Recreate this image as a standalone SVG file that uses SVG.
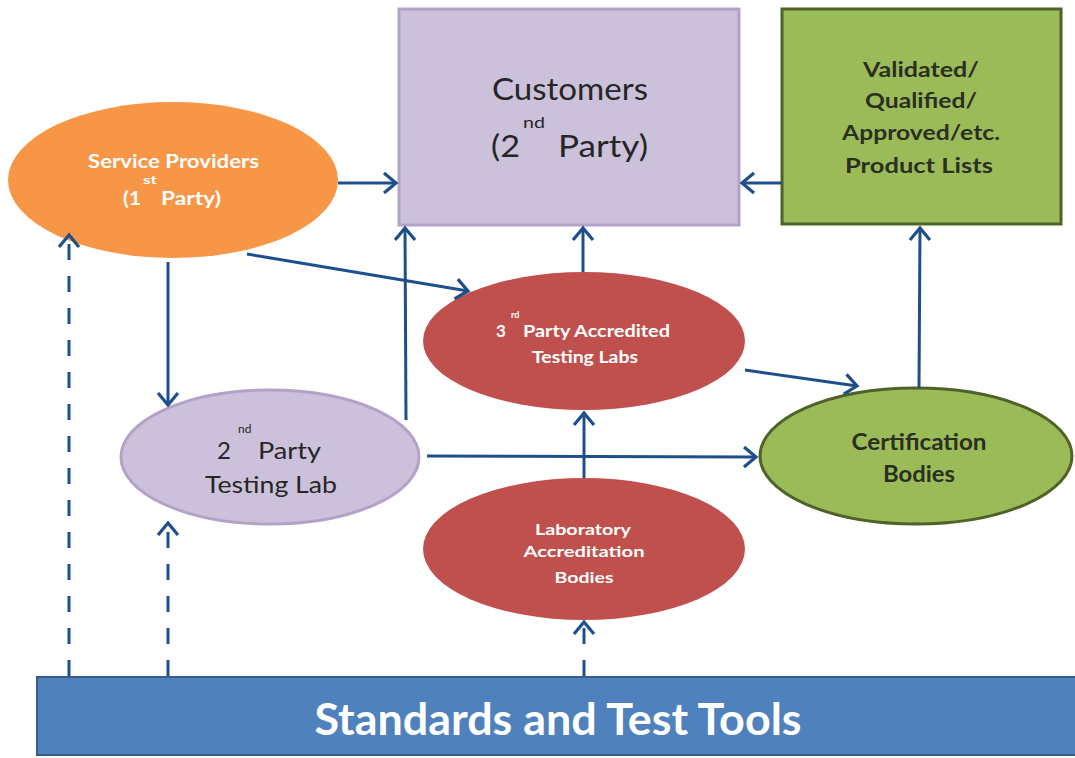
<svg xmlns="http://www.w3.org/2000/svg" width="1075" height="758" viewBox="0 0 1075 758">
  <style>
    .lbl { font-family: Lato, "Open Sans", "Liberation Sans", sans-serif; }
    .w { fill: #ffffff; font-weight: bold; }
    .d { fill: #262626; }
    .g { fill: #2b2f22; font-weight: bold; }
    .conn { stroke: #1f4f8b; stroke-width: 3; fill: none; }
    .dash { stroke-dasharray: 16 16; }
  </style>
  <defs>
    <marker id="arr" markerUnits="userSpaceOnUse" markerWidth="30" markerHeight="30" refX="16" refY="15" orient="auto">
      <path d="M4 5 L16 15 L4 25" fill="none" stroke="#1f4f8b" stroke-width="3.2" stroke-linejoin="miter"/>
    </marker>
  </defs>
  <rect width="1075" height="758" fill="#ffffff"/>

  <g id="customers">
    <rect x="399" y="9" width="340" height="216" fill="#ccc1da" stroke="#b3a2c7" stroke-width="3"/>
    <text class="lbl d" x="492" y="100" font-size="31" textLength="156" lengthAdjust="spacingAndGlyphs">Customers</text>
    <text class="lbl d" x="491" y="157" font-size="31" textLength="29" lengthAdjust="spacingAndGlyphs">(2</text>
    <text class="lbl d" x="523" y="128" font-size="16" textLength="22" lengthAdjust="spacingAndGlyphs">nd</text>
    <text class="lbl d" x="558" y="157" font-size="31" textLength="90" lengthAdjust="spacingAndGlyphs">Party)</text>
  </g>

  <g id="product-lists">
    <rect x="782" y="9" width="279" height="215" fill="#9bbb59" stroke="#4f6228" stroke-width="3"/>
    <g class="lbl g" font-size="20" text-anchor="middle" lengthAdjust="spacingAndGlyphs">
      <text x="921" y="77" textLength="116" lengthAdjust="spacingAndGlyphs">Validated/</text>
      <text x="921" y="108" textLength="112" lengthAdjust="spacingAndGlyphs">Qualified/</text>
      <text x="921" y="140" textLength="158" lengthAdjust="spacingAndGlyphs">Approved/etc.</text>
      <text x="919" y="173" textLength="148" lengthAdjust="spacingAndGlyphs">Product Lists</text>
    </g>
  </g>

  <g id="service-providers">
    <ellipse cx="173" cy="180" rx="165" ry="78" fill="#f79646"/>
    <text class="lbl w" x="88" y="168" font-size="18" textLength="171" lengthAdjust="spacingAndGlyphs">Service Providers</text>
    <text class="lbl w" x="123" y="205" font-size="18" textLength="18" lengthAdjust="spacingAndGlyphs">(1</text>
    <text class="lbl w" x="143" y="184" font-size="11" textLength="14" lengthAdjust="spacingAndGlyphs">st</text>
    <text class="lbl w" x="161" y="205" font-size="18" textLength="60" lengthAdjust="spacingAndGlyphs">Party)</text>
  </g>

  <g id="third-party-labs">
    <ellipse cx="584" cy="341" rx="161" ry="69" fill="#c0504d"/>
    <text class="lbl w" x="496" y="337" font-size="17">3</text>
    <text class="lbl w" x="511" y="318" font-size="9">rd</text>
    <text class="lbl w" x="523" y="337" font-size="17" textLength="147" lengthAdjust="spacingAndGlyphs">Party Accredited</text>
    <text class="lbl w" x="585" y="363" font-size="17" text-anchor="middle" textLength="106" lengthAdjust="spacingAndGlyphs">Testing Labs</text>
  </g>

  <g id="second-party-lab">
    <ellipse cx="270" cy="457" rx="149" ry="67" fill="#ccc1da" stroke="#b3a2c7" stroke-width="3"/>
    <text class="lbl d" x="217" y="459" font-size="24">2</text>
    <text class="lbl d" x="238" y="433" font-size="12">nd</text>
    <text class="lbl d" x="258" y="459" font-size="24" textLength="63" lengthAdjust="spacingAndGlyphs">Party</text>
    <text class="lbl d" x="271" y="493" font-size="24" text-anchor="middle" textLength="132" lengthAdjust="spacingAndGlyphs">Testing Lab</text>
  </g>

  <g id="lab-accreditation">
    <ellipse cx="584" cy="549" rx="161" ry="71" fill="#c0504d"/>
    <g class="lbl w" font-size="16" text-anchor="middle">
      <text x="583" y="535" textLength="96" lengthAdjust="spacingAndGlyphs">Laboratory</text>
      <text x="584" y="557" textLength="121" lengthAdjust="spacingAndGlyphs">Accreditation</text>
      <text x="584" y="583" textLength="59" lengthAdjust="spacingAndGlyphs">Bodies</text>
    </g>
  </g>

  <g id="certification-bodies">
    <ellipse cx="916" cy="456" rx="156" ry="68" fill="#9bbb59" stroke="#4f6228" stroke-width="3"/>
    <g class="lbl g" font-size="22" text-anchor="middle">
      <text x="919" y="450" textLength="135" lengthAdjust="spacingAndGlyphs">Certification</text>
      <text x="919" y="482" textLength="72" lengthAdjust="spacingAndGlyphs">Bodies</text>
    </g>
  </g>

  <g id="standards">
    <rect x="37" y="677" width="1040" height="78" fill="#4f81bd" stroke="#385d8a" stroke-width="2"/>
    <text class="lbl w" x="558" y="735" font-size="44" text-anchor="middle" textLength="487" lengthAdjust="spacingAndGlyphs">Standards and Test Tools</text>
  </g>

  <g id="connectors">
    <line class="conn" x1="338" y1="183" x2="396" y2="183" marker-end="url(#arr)"/>
    <line class="conn" x1="781" y1="183" x2="742" y2="183" marker-end="url(#arr)"/>
    <line class="conn" x1="168" y1="262" x2="168" y2="405" marker-end="url(#arr)"/>
    <line class="conn" x1="247" y1="254" x2="468" y2="291" marker-end="url(#arr)"/>
    <line class="conn" x1="406" y1="420" x2="405" y2="228" marker-end="url(#arr)"/>
    <line class="conn" x1="583" y1="272" x2="583" y2="228" marker-end="url(#arr)"/>
    <line class="conn" x1="745" y1="370" x2="857" y2="386" marker-end="url(#arr)"/>
    <line class="conn" x1="919" y1="388" x2="920" y2="228" marker-end="url(#arr)"/>
    <line class="conn" x1="427" y1="456" x2="756" y2="457" marker-end="url(#arr)"/>
    <line class="conn" x1="584" y1="478" x2="584" y2="413" marker-end="url(#arr)"/>
    <line class="conn dash" x1="69" y1="676" x2="69" y2="235" marker-end="url(#arr)"/>
    <line class="conn dash" x1="168" y1="676" x2="168" y2="523" marker-end="url(#arr)"/>
    <line class="conn dash" x1="584" y1="676" x2="584" y2="622" marker-end="url(#arr)"/>
  </g>
</svg>
